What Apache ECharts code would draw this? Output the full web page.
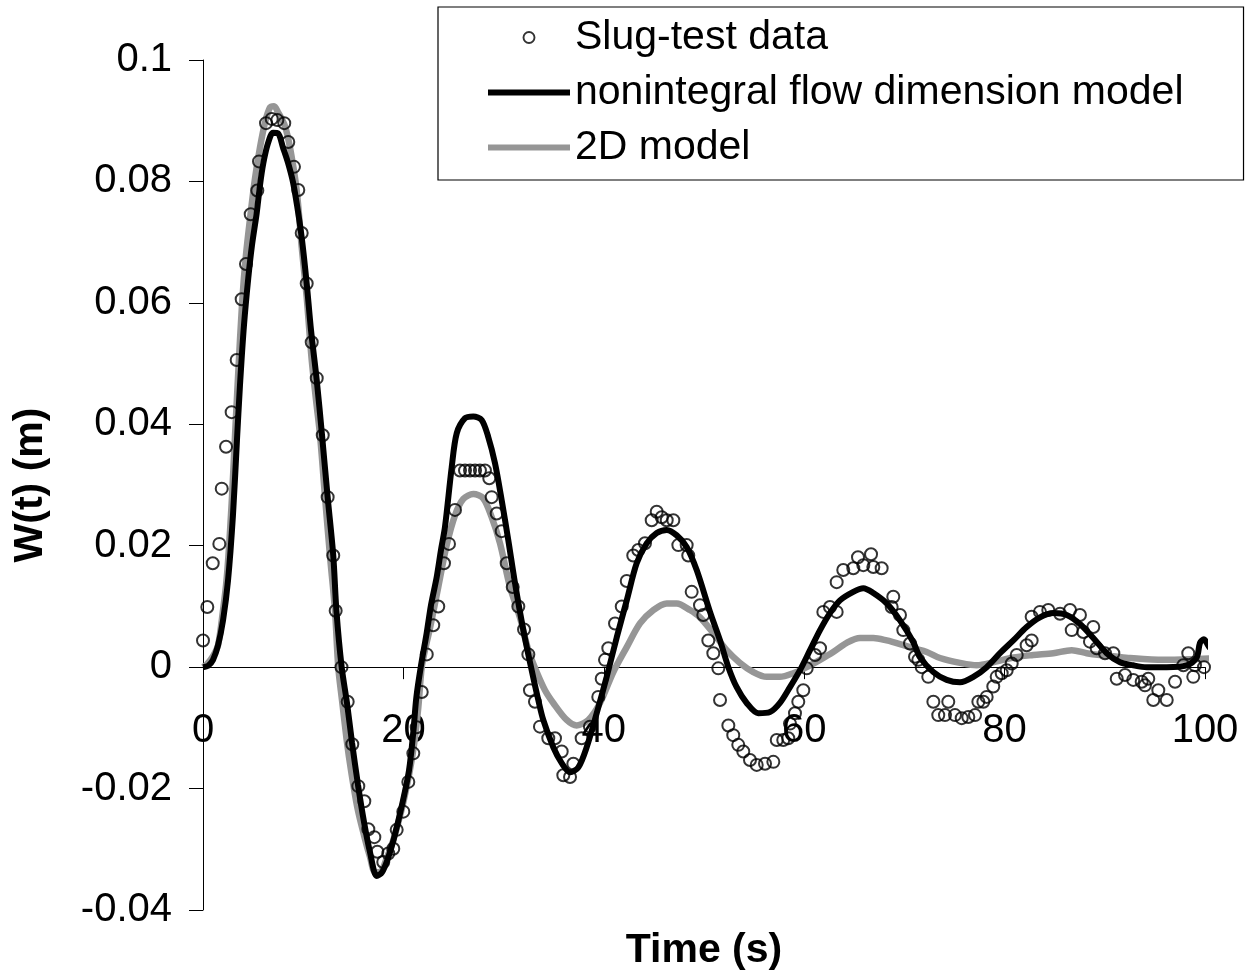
<!DOCTYPE html>
<html>
<head>
<meta charset="utf-8">
<script src="https://cdn.jsdelivr.net/npm/echarts@6/dist/echarts.min.js"></script>
<style>
html,body{margin:0;padding:0;background:#fff;}
#chart{width:1252px;height:978px;}
</style>
</head>
<body>
<div id="chart"></div>
<script>
// Observed slug-test data: [time (s), W(t) (m)]
const slugData = [
[0,0.0044],[0.43,0.0099],[0.97,0.0171],[1.63,0.0203],[1.87,0.0294],[2.30,0.0363],[2.86,0.0420],[3.36,0.0506],[3.86,0.0606],[4.29,0.0664],[4.76,0.0746],[5.42,0.0785],[5.59,0.0833],[6.29,0.0896],[6.86,0.0903],[7.42,0.0901],[8.11,0.0896],
[8.51,0.0865],[9.08,0.0824],[9.51,0.0786],[9.85,0.0715],[10.35,0.0632],[10.85,0.0535],[11.35,0.0476],[11.95,0.0382],[12.44,0.0280],[13.00,0.0184],[13.24,0.0093],[13.82,0.0000],[14.44,-0.0057],[14.90,-0.0127],[15.50,-0.0196],[16.10,-0.0221],[16.50,-0.0267],[17.10,-0.0280],[17.40,-0.0304],[17.99,-0.0321],[18.49,-0.0307],[18.99,-0.0299],[19.33,-0.0268],[19.99,-0.0238],[20.49,-0.0189],[20.99,-0.0142],[21.33,-0.0099],[21.83,-0.0041],[22.33,0.0021],
[22.98,0.0069],[23.48,0.0100],[24.05,0.0171],[24.55,0.0203],[25.15,0.0259],[25.65,0.0324],[26.15,0.0324],[26.65,0.0324],[27.15,0.0324],[27.64,0.0324],[28.14,0.0324],[28.57,0.0311],[28.81,0.0280],[29.31,0.0253],[29.81,0.0224],[30.31,0.0171],[30.91,0.0132],[31.47,0.0100],[32.04,0.0062],[32.47,0.0021],[32.63,-0.0038],
[33.13,-0.0057],[33.63,-0.0098],[34.46,-0.0117],[35.13,-0.0117],[35.80,-0.0139],[35.96,-0.0178],[36.63,-0.0181],[36.96,-0.0159],[37.79,-0.0117],[38.62,-0.0098],[39.45,-0.0049],[39.79,-0.0019],[40.12,0.0012],[40.45,0.0031],[41.12,0.0072],[41.79,0.0100],[42.29,0.0142],[42.94,0.0184],[43.44,0.0193],[44.11,0.0204],[44.78,0.0242],[45.28,0.0256],[45.78,0.0247],[46.28,0.0242],[46.94,0.0242],[47.44,0.0201],[48.27,0.0201],[48.43,0.0184],[48.77,0.0124],[49.60,0.0102],[49.93,0.0086],[50.43,0.0044],[50.93,0.0023],[51.43,-0.0002],[51.60,-0.0054],
[52.43,-0.0096],[52.92,-0.0112],[53.42,-0.0128],[53.92,-0.0139],[54.59,-0.0153],[55.26,-0.0161],[56.09,-0.0159],[56.92,-0.0156],[57.26,-0.0120],[57.91,-0.0120],[58.41,-0.0117],[58.58,-0.0093],[59.08,-0.0076],[59.41,-0.0057],[59.91,-0.0038],[60.25,-0.0002],[61.08,0.0020],[61.58,0.0031],[61.91,0.0091],[62.57,0.0099],[63.24,0.0091],[63.24,0.0140],[63.90,0.0160],[64.90,0.0163],[65.37,0.0181],[65.90,0.0168],[66.67,0.0186],[66.90,0.0165],[67.73,0.0163],[68.73,0.0099],[68.89,0.0116],[69.56,0.0086],[69.89,0.0061],[70.56,0.0039],[71.06,0.0017],
[71.39,0.0012],[71.73,0.0000],[72.38,-0.0016],[72.89,-0.0057],[73.38,-0.0079],[74.05,-0.0079],[74.38,-0.0057],[75.05,-0.0079],[75.72,-0.0084],[76.38,-0.0082],[77.05,-0.0079],[77.38,-0.0057],[77.88,-0.0057],[78.21,-0.0049],[78.87,-0.0032],[79.21,-0.0016],[79.71,-0.0010],[80.21,-0.0005],[80.71,0.0006],[81.21,0.0020],[82.20,0.0036],[82.70,0.0044],[82.70,0.0083],[83.53,0.0091],[84.36,0.0094],[85.53,0.0088],[86.53,0.0094],[86.70,0.0061],[87.52,0.0086],[87.86,0.0058],[88.52,0.0042],[88.85,0.0066],[89.19,0.0031],
[90.02,0.0023],[90.85,0.0023],[91.19,-0.0019],[92.02,-0.0013],[92.84,-0.0021],[93.68,-0.0024],[94.01,-0.0030],[94.34,-0.0019],[94.84,-0.0054],[95.34,-0.0038],[96.18,-0.0054],[97.01,-0.0024],[97.84,0.0003],[98.33,0.0023],[98.83,-0.0016],[99.00,0.0003],[99.90,0.0000]
];

// Nonintegral flow dimension model curve
const nonintegralModel = [
[0,0],[0.5,0.0002],[1.0,0.0012],[1.5,0.0036],[2.0,0.0077],[2.5,0.0143],[2.99,0.0250],[3.39,0.0374],[3.69,0.0464],[4.09,0.0563],[4.52,0.0641],[4.89,0.0695],[5.36,0.0748],[5.69,0.0794],[6.02,0.0830],[6.49,0.0863],[6.99,0.0880],[7.49,0.0879],[7.98,0.0856],[8.48,0.0831],[8.98,0.0799],[9.38,0.0761],[9.85,0.0708],[10.35,0.0632],[10.78,0.0555],[11.35,0.0473],[11.88,0.0382],[12.44,0.0280],[13.00,0.0184],[13.32,0.0092],[13.84,0],
[14.37,-0.0059],[14.87,-0.0124],[15.47,-0.0194],[16.07,-0.0255],[16.67,-0.0305],[17.34,-0.0344],[17.86,-0.0338],[18.46,-0.0315],[19.06,-0.0282],[19.86,-0.0227],[20.56,-0.0170],[21.0,-0.0105],[21.29,-0.0050],[21.76,0.0003],[22.32,0.0056],[22.75,0.0102],[23.32,0.0148],[23.75,0.0193],[24.15,0.0231],[24.82,0.0329],[25.32,0.0385],[26.15,0.0410],[26.98,0.0413],[27.81,0.0407],[28.47,0.0379],[29.14,0.0336],[29.81,0.0275],[30.47,0.0209],[31.14,0.0138],[31.97,0.0061],[32.80,-0.0005],
[33.46,-0.0054],[33.96,-0.0087],[34.96,-0.0132],[35.80,-0.0158],[36.63,-0.0173],[37.46,-0.0165],[38.29,-0.0132],[39.29,-0.0076],[40.29,-0.0016],[41.29,0.0049],[42.29,0.0110],[43.28,0.0171],[44.28,0.0204],[45.28,0.0221],[46.28,0.0226],[47.28,0.0217],[48.27,0.0198],[49.27,0.0160],[50.60,0.0091],[51.60,0.0044],[52.43,0],
[53.26,-0.0033],[54.26,-0.0059],[55.42,-0.0076],[56.59,-0.0074],[57.58,-0.0059],[58.58,-0.0033],[59.58,-0.0005],[60.58,0.0028],[61.58,0.0061],[62.57,0.0089],[63.57,0.0110],[64.90,0.0124],[65.90,0.0130],[66.90,0.0122],[68.23,0.0105],[69.56,0.0077],[70.89,0.0041],[71.56,0.0016],[72.88,-0.0008],[74.22,-0.0021],[75.55,-0.0025],[76.88,-0.0016],[78.21,0],
[79.54,0.0023],[80.87,0.0044],[82.20,0.0066],[83.53,0.0082],[84.86,0.0089],[86.20,0.0086],[87.52,0.0071],[88.85,0.0048],[90.19,0.0023],[91.52,0.0008],[92.84,0.0003],[94.18,0],[96.18,0],[98.17,0.0003],[99.17,0.0016],[99.5,0.0040],[99.9,0.0046],[100.3,0.0036],[100.6,0.0030],[100.9,0.0036]
];

// 2D model curve
const model2D = [
[0,0],[0.40,0.0005],[1.00,0.0018],[1.50,0.0036],[2.00,0.0094],[2.30,0.0135],[2.53,0.0181],[2.86,0.0270],[3.19,0.0379],[3.49,0.0476],[3.92,0.0604],[4.29,0.0679],[4.76,0.0748],[5.19,0.0805],[5.69,0.0856],[6.19,0.0897],[6.69,0.0922],[7.09,0.0924],[7.49,0.0914],[8.18,0.0891],[8.68,0.0856],[9.35,0.0785],[9.85,0.0692],[10.35,0.0609],[10.85,0.0506],[11.28,0.0440],[11.68,0.0382],[12.18,0.0280],[12.67,0.0184],[13.17,0.0094],[13.50,0],
[13.87,-0.0054],[14.34,-0.0120],[14.77,-0.0170],[15.40,-0.0231],[16.07,-0.0277],[16.67,-0.0313],[17.17,-0.0338],[17.66,-0.0338],[18.26,-0.0318],[18.99,-0.0285],[19.86,-0.0232],[20.59,-0.0175],[21.06,-0.0128],[21.49,-0.0066],[21.83,0],
[22.26,0.0036],[22.65,0.0064],[23.48,0.0132],[24.32,0.0201],[25.15,0.0250],[25.98,0.0277],[26.98,0.0285],[27.97,0.0278],[28.81,0.0247],[29.64,0.0204],[30.64,0.0132],[31.64,0.0081],[32.47,0.0028],[33.30,-0.0008],[34.13,-0.0038],[34.96,-0.0059],[36.30,-0.0087],[37.30,-0.0096],[38.45,-0.0087],[39.62,-0.0059],[40.95,-0.0008],
[42.29,0.0033],[43.61,0.0072],[44.94,0.0094],[46.28,0.0105],[47.28,0.0105],[48.60,0.0094],[49.60,0.0082],[50.93,0.0056],[52.26,0.0028],[53.59,0.0007],[54.92,-0.0008],[56.26,-0.0016],[57.58,-0.0016],[58.91,-0.0010],[60.25,0],
[61.58,0.0012],[62.90,0.0025],[64.24,0.0040],[65.57,0.0048],[66.90,0.0048],[68.23,0.0044],[69.56,0.0038],[70.89,0.0031],[72.23,0.0025],[73.55,0.0015],[75.55,0.0007],[77.22,0.0003],[78.87,0.0008],[80.87,0.0016],[82.86,0.0020],[84.86,0.0023],[86.70,0.0028],[88.19,0.0023],[89.52,0.0020],[90.85,0.0018],[92.51,0.0015],[95.84,0.0012],[98.50,0.0013],[101.1,0.0015]
];

const seriesNames = ['Slug-test data', 'nonintegral flow dimension model', '2D model'];
const xTitle = 'Time (s)';
const yTitle = 'W(t) (m)';

const FONT = '"Liberation Sans", Arial, Helvetica, sans-serif';
const chart = echarts.init(document.getElementById('chart'), null, {renderer: 'canvas'});

chart.setOption({
  backgroundColor: '#ffffff',
  animation: false,
  grid: {left: 203, top: 60, width: 1002, height: 850, containLabel: false, outerBoundsMode: 'none'},
  legend: {
    orient: 'vertical',
    left: 438, top: 7,
    padding: [10, 60, 12, 50],
    itemWidth: 82, itemHeight: 11, itemGap: 14,
    borderColor: '#000', borderWidth: 1.2, backgroundColor: '#fff',
    selectedMode: false,
    textStyle: {fontFamily: FONT, fontSize: 41, color: '#000', lineHeight: 41},
    data: [
      {name: seriesNames[0], icon: 'circle', itemStyle: {color: 'rgba(0,0,0,0)', borderColor: '#000', borderWidth: 1.9}},
      {name: seriesNames[1], icon: 'path://M0,0H82V6H0Z', itemStyle: {color: '#000', borderWidth: 0}},
      {name: seriesNames[2], icon: 'path://M0,0H82V6H0Z', itemStyle: {color: '#969696', borderWidth: 0}}
    ]
  },
  xAxis: {
    type: 'value', min: 0, max: 100, interval: 20,
    name: xTitle, nameLocation: 'middle', nameGap: 20,
    nameTextStyle: {fontFamily: FONT, fontSize: 41, fontWeight: 'bold', color: '#000'},
    axisLine: {onZero: true, lineStyle: {color: '#000', width: 1}},
    axisTick: {show: true, length: 12, lineStyle: {color: '#000', width: 1}},
    axisLabel: {fontFamily: FONT, fontSize: 40, color: '#000', margin: -199},
    splitLine: {show: false}
  },
  yAxis: {
    type: 'value', min: -0.04, max: 0.1, interval: 0.02,
    name: yTitle, nameLocation: 'middle', nameRotate: 90, nameGap: 152,
    nameTextStyle: {fontFamily: FONT, fontSize: 41, fontWeight: 'bold', color: '#000'},
    axisLine: {show: true, lineStyle: {color: '#000', width: 1}},
    axisTick: {show: true, length: 14, lineStyle: {color: '#000', width: 1}},
    axisLabel: {fontFamily: FONT, fontSize: 40, color: '#000', margin: 31,
      formatter: v => String(Math.round(v * 100) / 100)},
    splitLine: {show: false}
  },
  series: [
    {name: seriesNames[2], type: 'line', data: model2D, symbol: 'none', smooth: 0.3, clip: false,
      color: '#969696', lineStyle: {color: '#969696', width: 6.5}, z: 2},
    {name: seriesNames[1], type: 'line', data: nonintegralModel, symbol: 'none', smooth: 0.3, clip: false,
      color: '#000', lineStyle: {color: '#000', width: 6}, z: 3},
    {name: seriesNames[0], type: 'scatter', data: slugData, symbol: 'circle', symbolSize: 12,
      itemStyle: {color: 'rgba(0,0,0,0)', borderColor: '#000', borderWidth: 2}, z: 4}
  ]
});
</script>
</body>
</html>
